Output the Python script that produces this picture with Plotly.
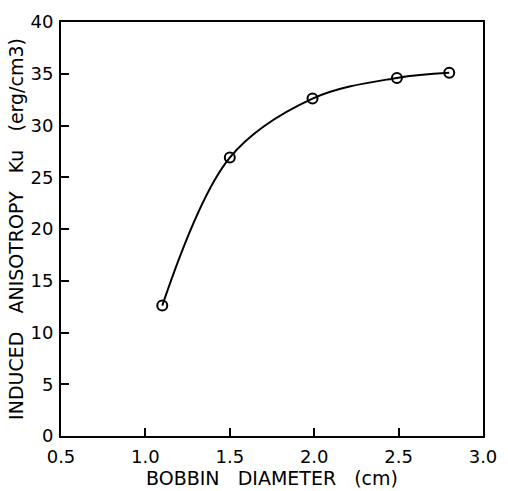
import plotly.graph_objects as go

# Bobbin diameter (cm) vs induced anisotropy Ku (erg/cm3)
diameter = [1.10, 1.50, 1.99, 2.49, 2.80]
anisotropy = [12.6, 26.9, 32.6, 34.6, 35.1]

x_ticks = [0.5, 1.0, 1.5, 2.0, 2.5, 3.0]
x_labels = ["0.5", "1.0", "1.5", "2.0", "2.5", "3.0"]
y_ticks = [0, 5, 10, 15, 20, 25, 30, 35, 40]

font_family = "DejaVu Sans, Liberation Sans, sans-serif"
gap = "\u00a0\u00a0\u00a0"

fig = go.Figure()
fig.add_trace(go.Scatter(
    x=diameter, y=anisotropy,
    mode="lines+markers",
    line=dict(color="black", width=2, shape="spline", smoothing=1.0),
    marker=dict(symbol="circle-open", size=10, color="black",
                line=dict(width=2, color="black")),
    showlegend=False,
))

fig.update_layout(
    width=508, height=491,
    margin=dict(l=61, r=16, t=11, b=47),
    paper_bgcolor="white", plot_bgcolor="white",
    font=dict(family=font_family, color="black", size=18),
)
fig.update_xaxes(
    range=[0.5, 3.0], tickvals=x_ticks, ticktext=x_labels,
    ticks="inside", ticklen=8, tickwidth=1.5, tickcolor="black",
    showline=True, linecolor="black", linewidth=2, mirror=True,
    showgrid=False, zeroline=False,
    tickfont=dict(size=18), ticklabelstandoff=3,
    title=dict(text=f"BOBBIN{gap}DIAMETER{gap}(cm)", font=dict(size=19), standoff=0),
)
fig.update_yaxes(
    range=[0, 40], tickvals=y_ticks,
    ticks="inside", ticklen=8, tickwidth=1.5, tickcolor="black",
    showline=True, linecolor="black", linewidth=2, mirror=True,
    showgrid=False, zeroline=False,
    tickfont=dict(size=18), ticklabelstandoff=2,
    title=dict(text=f"INDUCED{gap}ANISOTROPY{gap}Ku{gap}(erg/cm3)",
               font=dict(size=19), standoff=2),
)

fig.write_html("out.html")
